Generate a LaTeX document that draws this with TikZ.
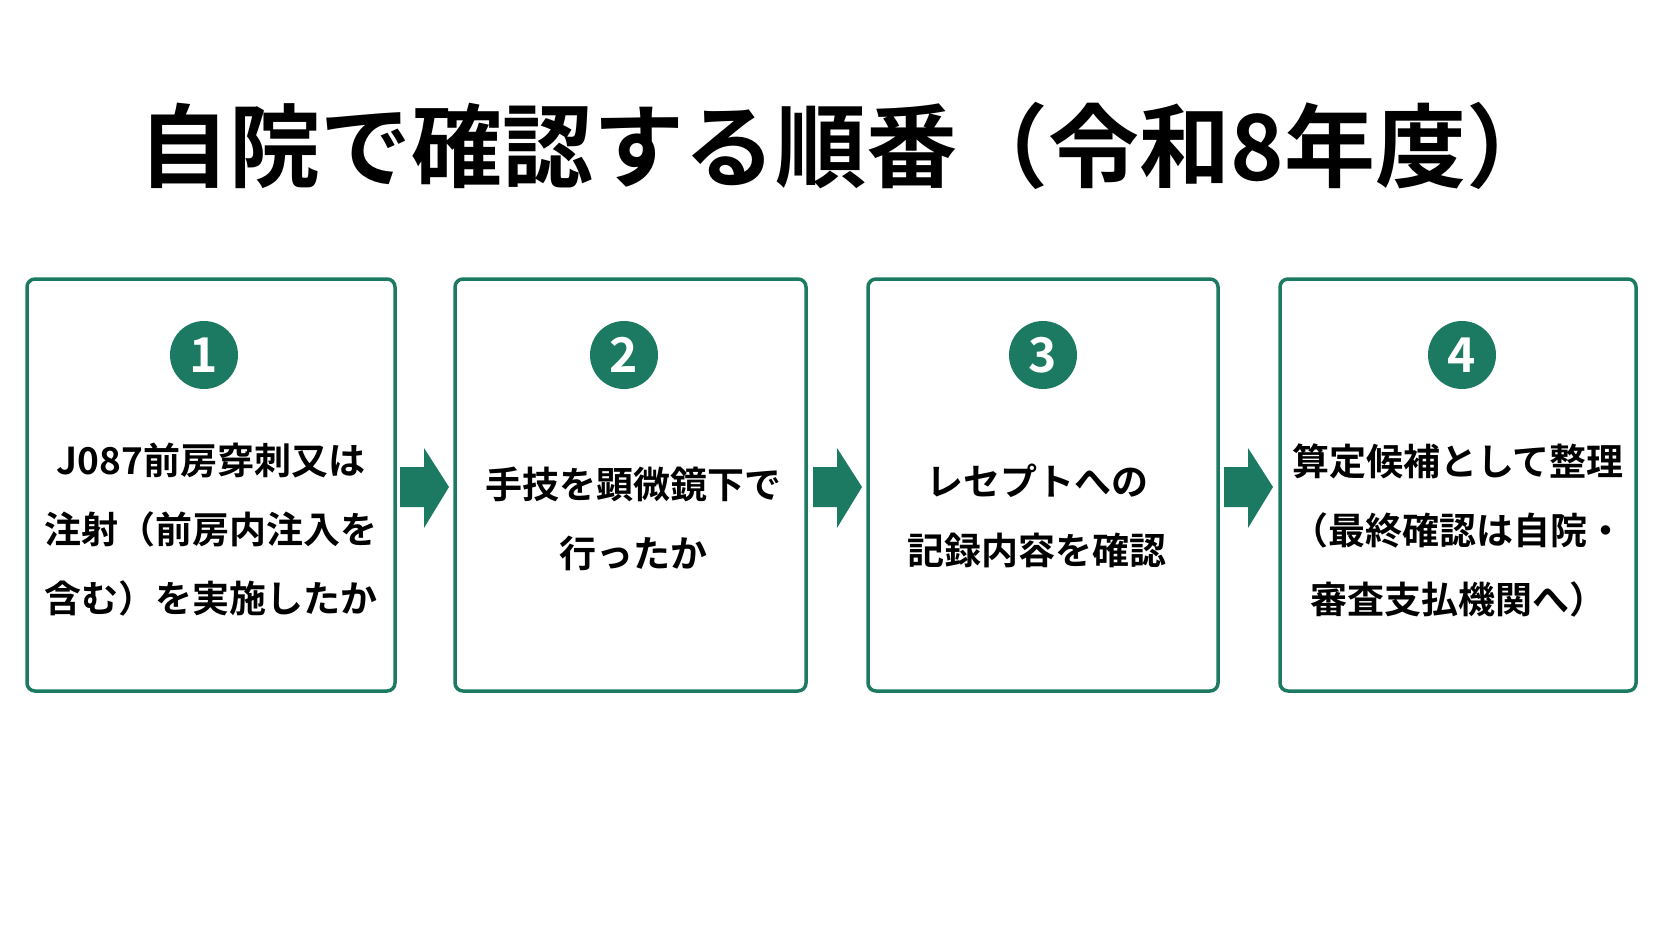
\documentclass[tikz,border=0pt]{standalone}
\usepackage{fontspec}
\setmainfont{Noto Sans CJK JP}[BoldFont={* Bold}]
\definecolor{grn}{HTML}{1D7A62}
\begin{document}
\begin{tikzpicture}[x=1pt,y=-1pt,
 box/.style={draw=grn,line width=3.5pt,rounded corners=8pt,fill=white},
 num/.style={circle,fill=grn,minimum size=68pt,inner sep=0pt,text=white,font=\bfseries\fontsize{48}{48}\selectfont},
 lbl/.style={align=center,font=\bfseries\fontsize{37}{69}\selectfont},
 arr/.style={fill=grn,draw=none}]
\useasboundingbox (0,0) rectangle (1672,941);
\fill[white] (0,0) rectangle (1672,941);
\node[font=\bfseries\fontsize{91}{91}\selectfont] (title) at (848,146) {自院で確認する順番（令和8年度）};
\draw[box] (27,279) rectangle (395,691); \node (b1) at (211,485) {};
\draw[box] (455,279) rectangle (806,691); \node (b2) at (630,485) {};
\draw[box] (868,279) rectangle (1218,691); \node (b3) at (1043,485) {};
\draw[box] (1280,279) rectangle (1636,691); \node (b4) at (1458,485) {};
\node[num] (n1) at (204,355) {1};
\node[num] (n2) at (624,355) {2};
\node[num] (n3) at (1043,355) {3};
\node[num] (n4) at (1462,355) {4};
\node[lbl] (t1) at (211,530) {J087前房穿刺又は\\注射（前房内注入を\\含む）を実施したか};
\node[lbl] (t2) at (633,519) {手技を顕微鏡下で\\行ったか};
\node[lbl] (t3) at (1037,516) {レセプトへの\\記録内容を確認};
\node[lbl] (t4) at (1458,530) {算定候補として整理\\（最終確認は自院・\\審査支払機関へ）};
\foreach \a in {400,813,1224}{
 \fill[arr] (\a,467) -- (\a+24,467) -- (\a+24,448) -- (\a+49,487) -- (\a+24,528) -- (\a+24,507) -- (\a,507) -- cycle;}
\end{tikzpicture}
\end{document}
